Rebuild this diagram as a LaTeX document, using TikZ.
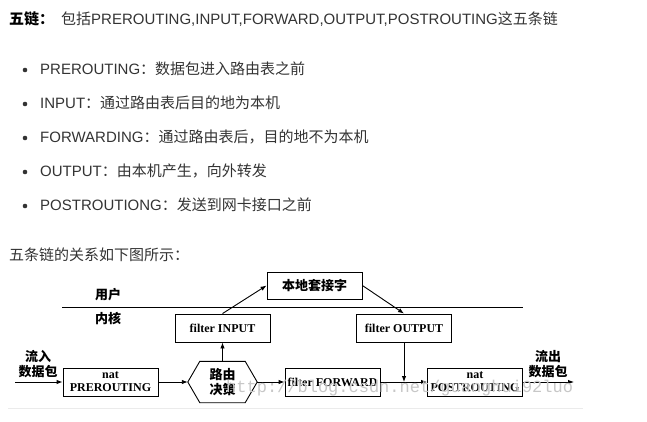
\documentclass[tikz,border=0pt]{standalone}
\usepackage{fontspec}
\setmainfont{Liberation Sans}
\newfontfamily\cjk{Noto Sans CJK SC}
\newfontfamily\bookfont{Liberation Serif}
\newfontfamily\markfont{Liberation Mono}
\usetikzlibrary{arrows.meta}

\definecolor{bodytext}{HTML}{333333}

\tikzset{
  line/.style={anchor=west, text=bodytext, inner sep=0, font=\fontsize{15}{18}\selectfont},
  chainbox/.style={draw, line width=0.9pt, minimum width=95pt, minimum height=28pt,
    inner sep=0, align=center, font=\bookfont\bfseries\fontsize{12}{13}\selectfont},
  zhlabel/.style={inner sep=0, align=center, font=\cjk\bfseries\fontsize{13}{15}\selectfont},
}

\begin{document}
\begin{tikzpicture}[x=1pt, y=-1pt, >={Latex[length=6pt,width=4.5pt]}]
        \useasboundingbox (0,0) rectangle (647,421);

        % Heading
        \node[line, text=black, font=\cjk\bfseries\fontsize{15}{18}\selectfont] (head) at (9,19) {五链：};
        \node[line] (headtext) at (61,19) {{\cjk 包括}PREROUTING,INPUT,FORWARD,OUTPUT,POSTROUTING{\cjk 这五条链}};

        % List of chains
        \fill[bodytext] (25,70) circle (2.3);
        \node[line] (pre text) at (40,69) {PREROUTING{\cjk ：数据包进入路由表之前}};
        \fill[bodytext] (25,104) circle (2.3);
        \node[line] (in text) at (40,103) {INPUT{\cjk ：通过路由表后目的地为本机}};
        \fill[bodytext] (25,138) circle (2.3);
        \node[line] (fwd text) at (40,137) {FORWARDING{\cjk ：通过路由表后，目的地不为本机}};
        \fill[bodytext] (25,172) circle (2.3);
        \node[line] (out text) at (40,171) {OUTPUT{\cjk ：由本机产生，向外转发}};
        \fill[bodytext] (25,206) circle (2.3);
        \node[line] (post text) at (40,205) {POSTROUTIONG{\cjk ：发送到网卡接口之前}};

        \node[line] (relation) at (9,255) {\cjk 五条链的关系如下图所示：};

        % User / kernel boundary
        \draw[line width=0.9pt] (62,307) -- (523,307);
        \node[zhlabel] (user) at (108,295) {用户};
        \node[zhlabel] (kernel) at (108,318) {内核};

        % Chains
        \node[chainbox] (pre) at (110.5,382) {nat\\PREROUTING};
        \node[minimum width=69pt, minimum height=41pt, inner sep=0] (route) at (222.5,382) {};
        \draw[line width=0.9pt] (route.west) -- ([xshift=12pt]route.north west)
            -- ([xshift=-12pt]route.north east) -- (route.east)
            -- ([xshift=-12pt]route.south east) -- ([xshift=12pt]route.south west) -- cycle;
        \node[zhlabel] at (route) {路由\\决策};
        \node[chainbox] (input) at (222.5,328) {filter INPUT};
        \node[chainbox, font=\cjk\bfseries\fontsize{13}{15}\selectfont, minimum height=27pt] (socket) at (314.5,285.5) {本地套接字};
        \node[chainbox] (output) at (404,328) {filter OUTPUT};
        \node[chainbox] (forward) at (332.5,382) {filter FORWARD};
        \node[chainbox] (post) at (475,382) {nat\\POSTROUTING};

        % Packets in and out
        \coordinate (in) at (15,382);
        \coordinate (out) at (574,382);
        \node[zhlabel] (in label) at (38,364) {流入\\数据包};
        \node[zhlabel] (out label) at (548,364) {流出\\数据包};

        % Flow
        \draw[->, line width=0.9pt] (in) -- (pre);
        \draw[->, line width=0.9pt] (pre) -- (route);
        \draw[->, line width=0.9pt] (route) -- (forward);
        \draw[->, line width=0.9pt] (forward) -- (post);
        \draw[->, line width=0.9pt] (post) -- (out);
        \draw[->, line width=0.9pt] (route.north) -- (input);
        \draw[->, line width=0.9pt] (input.north) -- (socket.west);
        \draw[->, line width=0.9pt] (socket.east) -- (output.north);
        \draw[->, line width=0.9pt] (output) -- (output |- forward.east);

        % Watermark and bottom edge
        \node[anchor=base west, inner sep=0, text=black!22, font=\markfont\fontsize{17}{17}\selectfont] (mark) at (226,392) {http://blog.csdn.net/guanghui92luo};
        \draw[black!8] (8,408) -- (583,408);
\end{tikzpicture}
\end{document}
